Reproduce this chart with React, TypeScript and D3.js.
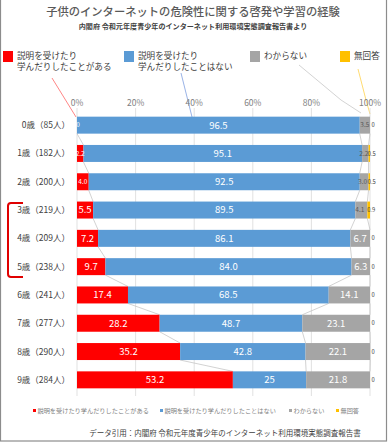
import React from "react";
import * as d3 from "d3";

// 年齢区分と回答割合（%）
const ages = ["0歳（85人）", "1歳（182人）", "2歳（200人）", "3歳（219人）", "4歳（209人）", "5歳（238人）", "6歳（241人）", "7歳（277人）", "8歳（290人）", "9歳（284人）"];
const learned = [0, 2.2, 4.0, 5.5, 7.2, 9.7, 17.4, 28.2, 35.2, 53.2];
const notLearned = [96.5, 95.1, 92.5, 89.5, 86.1, 84.0, 68.5, 48.7, 42.8, 25];
const unknown = [3.5, 2.2, 3.0, 4.1, 6.7, 6.3, 14.1, 23.1, 22.1, 21.8];
const noAnswer = [0, 0.5, 0.5, 0.9, 0, 0, 0, 0, 0, 0];
const learnedLabels = ["0", "2.2", "4.0", "5.5", "7.2", "9.7", "17.4", "28.2", "35.2", "53.2"];
const notLearnedLabels = ["96.5", "95.1", "92.5", "89.5", "86.1", "84.0", "68.5", "48.7", "42.8", "25"];
const unknownLabels = ["3.5", "2.2", "3.0", "4.1", "6.7", "6.3", "14.1", "23.1", "22.1", "21.8"];
const noAnswerLabels = ["0", "0.5", "0.5", "0.9", "0", "0", "0", "0", "0", "0"];
const ticks = [0, 20, 40, 60, 80, 100];

const seriesNames = ["説明を受けたり学んだりしたことがある", "説明を受けたり学んだりしたことはない", "わからない", "無回答"];
const colors = ["#FF0000", "#5B9BD5", "#A5A5A5", "#FFC000"];

const FONT = "'Noto Sans CJK JP', 'Noto Sans', sans-serif";

export default function App() {
  const width = 390;
  const height = 445;

  const x = d3.scaleLinear().domain([0, 100]).range([77, 370]);
  const y = d3
    .scaleBand()
    .domain(ages)
    .range([111, 394])
    .paddingInner(0.4)
    .paddingOuter(0.2);
  const bw = y.bandwidth();

  const rows = ages.map((age, i) => ({
    age,
    values: [learned[i], notLearned[i], unknown[i], noAnswer[i]],
    labels: [learnedLabels[i], notLearnedLabels[i], unknownLabels[i], noAnswerLabels[i]],
  }));

  const stacked = rows.map((r) => {
    let acc = 0;
    return r.values.map((v, k) => {
      const s = { x0: acc, x1: acc + v, v, label: r.labels[k], k };
      acc += v;
      return s;
    });
  });

  // series lines between neighbouring bars (Excel style)
  const seriesLines: { x1: number; y1: number; x2: number; y2: number }[] = [];
  for (let i = 0; i < rows.length - 1; i++) {
    for (let k = 0; k < 3; k++) {
      const a = stacked[i][k].x1;
      const b = stacked[i + 1][k].x1;
      seriesLines.push({
        x1: x(a),
        y1: (y(ages[i]) as number) + bw,
        x2: x(b),
        y2: y(ages[i + 1]) as number,
      });
    }
  }

  const topLegend = [
    { k: 0, x: 3, lines: ["説明を受けたり", "学んだりしたことがある"], callout: [[52, 78], [76, 117]] },
    { k: 1, x: 124, lines: ["説明を受けたり", "学んだりしたことはない"], callout: [[181, 73], [192, 117]] },
    { k: 2, x: 250, lines: ["わからない"], callout: [[299, 65], [341, 100], [361, 113]] },
    { k: 3, x: 340, lines: ["無回答"], callout: [[358, 69], [366, 100], [370, 114]] },
  ];
  const calloutColors = ["#FF6666", "#7F9FE0", "#C8C8C8", "#FFD24D"];

  const bottomLegend = [
    { k: 0, x: 33 },
    { k: 1, x: 160 },
    { k: 2, x: 289 },
    { k: 3, x: 336 },
  ];

  return (
    <svg
      width={width}
      height={height}
      style={{ position: "absolute", left: 0, top: 0, background: "#fff" }}
      fontFamily={FONT}
    >
      <rect x={0.5} y={-1} width={386} height={442} fill="#fff" stroke="#8c8c8c" strokeWidth={1.2} />

      {/* title */}
      <text x={193} y={16} textAnchor="middle" fontSize={11.3} fill="#595959" fontWeight={500}>
        子供のインターネットの危険性に関する啓発や学習の経験
      </text>
      <text x={193} y={29} textAnchor="middle" fontSize={7.1} fill="#404040" fontWeight={700}>
        内閣府 令和元年度青少年のインターネット利用環境実態調査報告書より
      </text>

      {/* top legend with callouts */}
      {topLegend.map((l) => (
        <g key={l.k}>
          <rect x={l.x} y={51} width={10} height={11} fill={colors[l.k]} />
          {l.lines.map((t, j) => (
            <text key={j} x={l.x + 14} y={59 + j * 11} fontSize={8.6} fill="#404040">
              {t}
            </text>
          ))}
          <polyline
            points={l.callout.map((p) => p.join(",")).join(" ")}
            fill="none"
            stroke={calloutColors[l.k]}
            strokeWidth={0.8}
          />
        </g>
      ))}

      {/* grid */}
      {ticks.map((t) => (
        <g key={t}>
          <line x1={x(t)} x2={x(t)} y1={108} y2={396} stroke="#D9D9D9" strokeWidth={0.8} />
          <text x={x(t)} y={106} textAnchor="middle" fontSize={8.5} fill="#808080">
            {t}%
          </text>
        </g>
      ))}

      {/* series lines */}
      {seriesLines.map((s, i) => (
        <line key={i} x1={s.x1} y1={s.y1} x2={s.x2} y2={s.y2} stroke="#BFBFBF" strokeWidth={0.7} />
      ))}

      {/* bars */}
      {stacked.map((segs, i) => {
        const y0 = y(ages[i]) as number;
        return (
          <g key={ages[i]}>
            <text x={70} y={y0 + bw / 2 + 3} textAnchor="end" fontSize={8.5} fill="#404040">
              {ages[i]}
            </text>
            {segs.map((s) => (
              <rect
                key={s.k}
                x={x(s.x0)}
                y={y0}
                width={Math.max(0, x(s.x1) - x(s.x0))}
                height={bw}
                fill={colors[s.k]}
              />
            ))}
            {segs.map((s) => {
              const w = x(s.x1) - x(s.x0);
              let cx = (x(s.x0) + x(s.x1)) / 2;
              let fs = 9.5;
              let fill = "#fff";
              if (s.k === 3) {
                cx = s.v === 0 ? x(100) + 3 : cx + 2.5;
                fs = 5.8;
                fill = "#404040";
              } else if (w < 14) {
                fs = 6.5;
                fill = s.k === 2 ? "#595959" : "#fff";
                if (s.k === 2 && segs[3].v > 0) cx -= 1.5;
              }
              if (s.k === 0 && s.v === 0) cx = x(0) + 1;
              return (
                <text
                  key={"l" + s.k}
                  x={cx}
                  y={y0 + bw / 2 + fs * 0.36}
                  textAnchor="middle"
                  fontSize={fs}
                  fill={fill}
                >
                  {s.label}
                </text>
              );
            })}
          </g>
        );
      })}

      {/* red bracket for 3-5 years */}
      <path
        d="M23,203 L11,203 Q8,203 8,206 L8,274 Q8,277 11,277 L23,277"
        fill="none"
        stroke="#E00000"
        strokeWidth={2}
      />

      {/* bottom legend */}
      {bottomLegend.map((l) => (
        <g key={l.k}>
          <rect x={l.x} y={409} width={3} height={3} fill={colors[l.k]} />
          <text x={l.x + 4.5} y={413} fontSize={6.2} fill="#7f7f7f">
            {seriesNames[l.k]}
          </text>
        </g>
      ))}

      <text x={225} y={436} textAnchor="middle" fontSize={7.5} fill="#404040">
        データ引用：内閣府 令和元年度青少年のインターネット利用環境実態調査報告書
      </text>
    </svg>
  );
}
